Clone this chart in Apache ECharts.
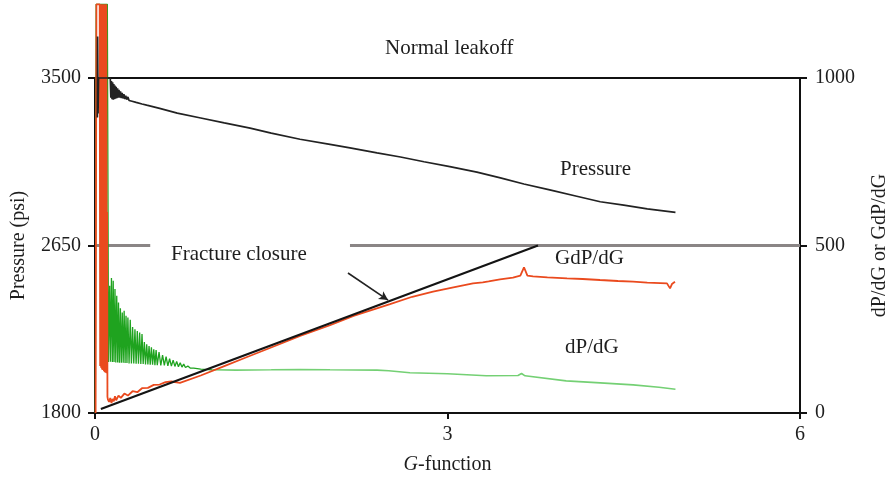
<!DOCTYPE html>
<html>
<head>
<meta charset="utf-8">
<script src="https://cdn.jsdelivr.net/npm/echarts@6/dist/echarts.min.js"></script>
<style>
html,body{margin:0;padding:0;background:#fff;}
#chart{width:895px;height:483px;}
</style>
</head>
<body>
<div id="chart"></div>
<script>
// ---- data (G-function, value) ----
var xTicks = [0, 3, 6];
var pressureTicks = [1800, 2650, 3500];
var derivTicks = [0, 500, 1000];

// Pressure (psi), left axis
var pressure = [
  [0.02,3300],[0.022,3710],[0.026,3320],[0.03,3500],[0.13,3500],[0.135,3400],[0.14,3485],[0.145,3392],
  [0.15,3478],[0.155,3390],[0.16,3470],[0.165,3392],[0.17,3462],[0.175,3395],[0.18,3455],[0.186,3398],
  [0.192,3448],[0.198,3400],[0.204,3440],[0.21,3400],[0.217,3432],[0.224,3398],[0.231,3425],[0.238,3396],
  [0.246,3418],[0.254,3393],[0.262,3410],[0.27,3390],[0.28,3404],[0.29,3386],[0.3,3396],[0.315,3382],
  [0.33,3390],[0.35,3376],[0.4,3368],[0.44,3362],
  [0.55,3346],[0.7,3322],[0.9,3297],[1.1,3272],[1.32,3246],[1.5,3220],[1.745,3189],[2.0,3163],
  [2.17,3145],[2.4,3120],[2.6,3099],[2.8,3075],[3.02,3050],[3.25,3022],[3.45,2993],[3.65,2962],
  [3.87,2932],[4.1,2900],[4.3,2872],[4.5,2855],[4.7,2836],[4.94,2818]
];

// dP/dG, right axis (early oscillating part)
var dPdGEarly = [
  [0.003,0],[0.01,1220],[0.105,1220],[0.115,152],[0.125,380],[0.132,153],[0.14,403],[0.148,152],
  [0.155,395],[0.162,152],[0.17,370],[0.177,151],[0.185,350],[0.193,151],[0.2,330],[0.208,150],
  [0.216,313],[0.224,150],[0.232,300],[0.24,150],[0.248,305],[0.256,149],[0.264,290],[0.272,149],
  [0.28,285],[0.29,148],[0.3,278],[0.31,148],[0.32,257],[0.33,148],[0.34,250],[0.35,147],
  [0.36,245],[0.37,147],[0.38,240],[0.39,146],[0.4,236],[0.41,146],[0.42,212],[0.43,145],
  [0.44,205],[0.45,145],[0.46,200],[0.47,144],[0.48,196],[0.49,144],[0.5,190],[0.51,143],
  [0.52,188],[0.53,143],[0.545,182],[0.56,142],[0.575,173],[0.59,142],[0.605,168],[0.62,141],
  [0.635,162],[0.65,140],[0.665,158],[0.68,139],[0.695,154],[0.71,138],[0.725,150],[0.74,137],
  [0.755,146],[0.77,136],[0.79,140],[0.81,134],[0.84,134],[0.9,131],[1.0,129]
];
// dP/dG, right axis (later smooth part)
var dPdGLate = [
  [1.0,129],[1.2,128],[1.5,129],[1.745,130],[2.0,129],[2.4,128],[2.5,126],[2.68,120],[3.0,117],
  [3.33,111],[3.6,112],[3.63,118],[3.66,111],[4.01,96],[4.3,90],[4.58,84],[4.8,77],[4.94,71]
];

// GdP/dG, right axis
var gdPdG = [
  [0.005,0],[0.012,1220],[0.04,1220],[0.044,140],[0.048,1220],[0.052,135],[0.056,1220],[0.06,130],
  [0.064,1220],[0.068,128],[0.072,1220],[0.076,125],[0.08,1220],[0.084,122],[0.088,1220],[0.092,120],
  [0.096,1220],[0.1,119],[0.103,600],[0.106,48],
  [0.11,40],[0.12,33],[0.13,45],[0.14,30],[0.15,42],[0.16,35],[0.17,50],[0.18,38],[0.2,52],
  [0.22,45],[0.25,58],[0.28,52],[0.32,65],[0.36,62],[0.4,74],[0.45,75],[0.5,84],[0.55,85],
  [0.6,92],[0.65,94],[0.723,90],[0.9,112],[1.1,140],[1.3,168],[1.574,206],[1.745,230],[2.0,262],
  [2.2,290],[2.511,325],[2.7,347],[2.877,362],[3.05,375],[3.217,387],[3.3,390],[3.35,393],
  [3.447,399],[3.557,404],[3.62,410],[3.651,435],[3.68,410],[3.728,408],[3.85,405],[4.017,402],
  [4.15,400],[4.298,397],[4.45,394],[4.579,392],[4.7,389],[4.868,387],[4.88,392],[4.894,372],
  [4.91,385],[4.936,392]
];

// Tangent line (right axis) and arrow
var tangent = [[0.05,12],[3.77,500]];
var arrowFrom = [2.153,418];
var arrowTo = [2.494,337];

// Fracture closure level (psi)
var closurePressure = 2650;
var closureSeg1 = [0, 0.47];
var closureSeg2 = [2.17, 6];

var FONT = '"Liberation Serif", "DejaVu Serif", serif';
var TXT = '#1e1e1e';
var FS = 20;

var chart = echarts.init(document.getElementById('chart'), null, {renderer:'canvas'});
var axisLineStyle = {color:'#111', width:2};
var plain = function (v) { return String(v); };

chart.setOption({
  animation:false,
  backgroundColor:'#fff',
  grid:{left:95, right:95, top:78, bottom:70, containLabel:false, outerBoundsMode:'none'},
  xAxis:[{
    type:'value', min:0, max:6, interval:3, position:'bottom',
    axisLine:{show:true, onZero:false, lineStyle:axisLineStyle},
    axisTick:{show:true, inside:false, length:6, lineStyle:{color:'#111', width:2}},
    axisLabel:{show:true, margin:12, fontFamily:FONT, fontSize:FS, color:TXT, formatter:plain},
    splitLine:{show:false},
    name:'{i|G}-function', nameLocation:'middle', nameGap:42,
    nameTextStyle:{fontFamily:FONT, fontSize:FS, color:TXT,
      rich:{i:{fontFamily:FONT, fontSize:FS, fontStyle:'italic', color:TXT}}}
  },{
    type:'value', min:0, max:6, position:'top',
    axisLine:{show:true, onZero:false, lineStyle:axisLineStyle},
    axisTick:{show:false}, axisLabel:{show:false}, splitLine:{show:false}
  }],
  yAxis:[{
    type:'value', min:1800, max:3500, position:'left',
    axisLine:{show:true, onZero:false, lineStyle:axisLineStyle},
    axisTick:{show:true, inside:false, length:7, customValues:pressureTicks, lineStyle:{color:'#111', width:2}},
    axisLabel:{show:true, margin:14, fontFamily:FONT, fontSize:FS, color:TXT, customValues:pressureTicks, formatter:plain},
    splitLine:{show:false},
    name:'Pressure (psi)', nameLocation:'middle', nameGap:66, nameRotate:90,
    nameTextStyle:{fontFamily:FONT, fontSize:FS, color:TXT}
  },{
    type:'value', min:0, max:1000, interval:500, position:'right',
    axisLine:{show:true, onZero:false, lineStyle:axisLineStyle},
    axisTick:{show:true, inside:false, length:7, lineStyle:{color:'#111', width:2}},
    axisLabel:{show:true, margin:15, fontFamily:FONT, fontSize:FS, color:TXT, formatter:plain},
    splitLine:{show:false},
    name:'dP/dG or GdP/dG', nameLocation:'middle', nameGap:70, nameRotate:90,
    nameTextStyle:{fontFamily:FONT, fontSize:FS, color:TXT}
  }],
  series:[
    {type:'line', yAxisIndex:0, clip:false, symbol:'none', silent:true,
      data:[[closureSeg1[0],closurePressure],[closureSeg1[1],closurePressure]],
      lineStyle:{color:'#8a8585', width:3}},
    {type:'line', yAxisIndex:0, clip:false, symbol:'none', silent:true,
      data:[[closureSeg2[0],closurePressure],[closureSeg2[1],closurePressure]],
      lineStyle:{color:'#8a8585', width:3}},
    {type:'line', yAxisIndex:1, clip:false, symbol:'none', data:dPdGEarly,
      lineStyle:{color:'#1fa31f', width:1.3}},
    {type:'line', yAxisIndex:1, clip:false, symbol:'none', data:dPdGLate,
      lineStyle:{color:'#74d074', width:1.6}},
    {type:'line', yAxisIndex:1, clip:false, symbol:'none', data:gdPdG,
      lineStyle:{color:'#ea4a1e', width:1.8}},
    {type:'line', yAxisIndex:0, clip:false, symbol:'none', data:pressure,
      lineStyle:{color:'#222', width:1.7}},
    {type:'line', yAxisIndex:1, clip:false, symbol:'none', data:tangent,
      lineStyle:{color:'#141414', width:2.2},
      markLine:{silent:true, symbol:['none','arrow'], symbolSize:[7,9],
        label:{show:false}, lineStyle:{color:'#222', width:1.6, type:'solid'},
        data:[[{coord:arrowFrom},{coord:arrowTo}]]}}
  ],
  graphic:[
    {type:'text', x:385, y:38, style:{text:'Normal leakoff', font:'21px '+FONT, fill:TXT}},
    {type:'text', x:560, y:159, style:{text:'Pressure', font:'21px '+FONT, fill:TXT}},
    {type:'text', x:171, y:244, style:{text:'Fracture closure', font:'21px '+FONT, fill:TXT}},
    {type:'text', x:555, y:248, style:{text:'GdP/dG', font:'21px '+FONT, fill:TXT}},
    {type:'text', x:565, y:337, style:{text:'dP/dG', font:'21px '+FONT, fill:TXT}}
  ]
});
</script>
</body>
</html>
